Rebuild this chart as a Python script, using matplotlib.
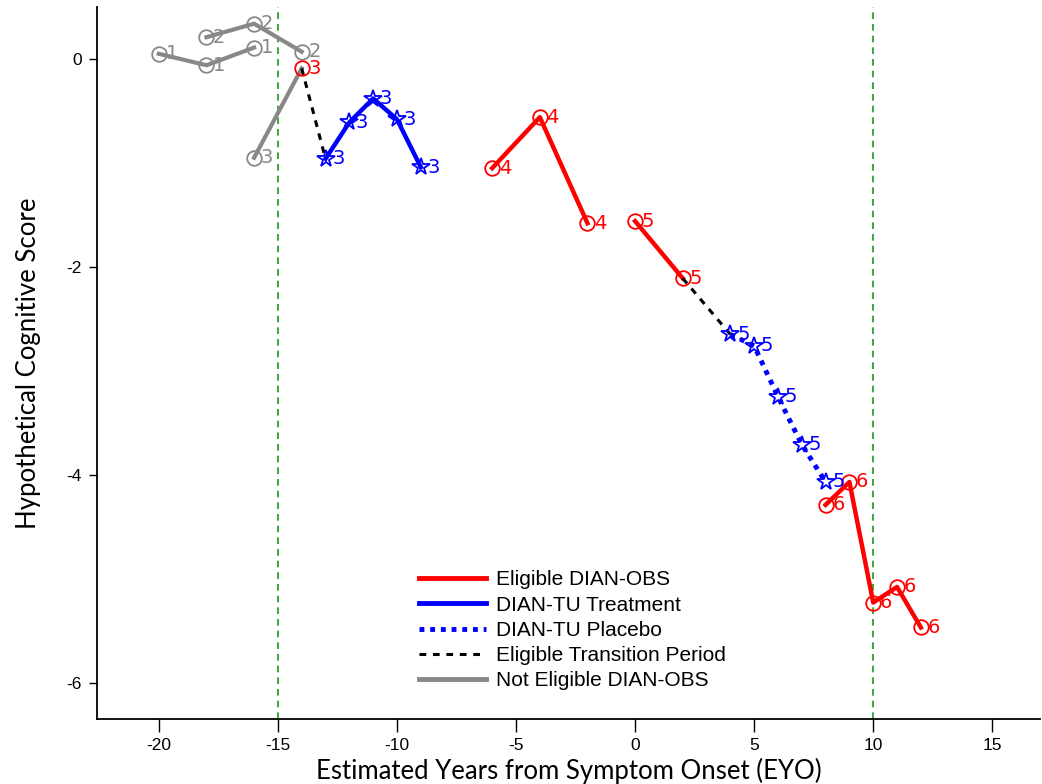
import matplotlib
matplotlib.use("Agg")
import matplotlib.pyplot as plt

plt.rcParams["axes.unicode_minus"] = False

# gray: not eligible DIAN-OBS
g1_x = [-20, -18, -16]
g1_y = [0.05, -0.06, 0.11]
g2_x = [-18, -16, -14]
g2_y = [0.21, 0.34, 0.07]
g3_x = [-16, -14]
g3_y = [-0.95, -0.09]

# blue: DIAN-TU treatment (subject 3)
tu3_x = [-13, -12, -11, -10, -9]
tu3_y = [-0.96, -0.61, -0.38, -0.58, -1.04]

# red: eligible DIAN-OBS
obs4_x = [-6, -4, -2]
obs4_y = [-1.05, -0.56, -1.58]
obs5_x = [0, 2]
obs5_y = [-1.56, -2.11]
obs6_x = [8, 9, 10, 11, 12]
obs6_y = [-4.29, -4.07, -5.23, -5.08, -5.47]

# blue dotted: DIAN-TU placebo (subject 5)
pl5_x = [4, 5, 6, 7, 8]
pl5_y = [-2.65, -2.76, -3.25, -3.71, -4.07]

# black dashed: transition periods
tr3_x = [-14, -13]
tr3_y = [-0.09, -0.96]
tr5_x = [2, 4]
tr5_y = [-2.11, -2.65]

RED, BLUE, GRAY = "#ff0000", "#0000ff", "#888888"
TICKFONT = ["Liberation Sans", "DejaVu Sans"]
LABFONT = ["Lato", "DejaVu Sans"]

fig = plt.figure(figsize=(10.42, 7.84), dpi=100)
ax = fig.add_axes([0.093, 0.083, 0.905, 0.908])

for xv in (-15, 10):
    ax.axvline(xv, color="#1a9a1a", ls=(0, (4, 3)), lw=1.2, zorder=1)


def markers(xs, ys, color, txt, marker="o", ms=10.5):
    ax.plot(xs, ys, ls="none", marker=marker, ms=ms, mfc="none", mec=color,
            mew=1.3, zorder=3)
    for x, y in zip(xs, ys):
        ax.text(x + 0.28, y, txt, color=color, fontsize=14, va="center",
                ha="left", zorder=4)


# lines
ax.plot(g1_x, g1_y, color=GRAY, lw=3, zorder=2)
ax.plot(g2_x, g2_y, color=GRAY, lw=3, zorder=2)
ax.plot(g3_x, g3_y, color=GRAY, lw=3, zorder=2)
ax.plot(tr3_x, tr3_y, color="black", lw=2.2, dashes=(2.2, 2.2), zorder=2)
ax.plot(tu3_x, tu3_y, color=BLUE, lw=3.2, zorder=2)
ax.plot(obs4_x, obs4_y, color=RED, lw=3.2, zorder=2)
ax.plot(obs5_x, obs5_y, color=RED, lw=3.2, zorder=2)
ax.plot(tr5_x, tr5_y, color="black", lw=2.2, dashes=(2.2, 2.2), zorder=2)
ax.plot(pl5_x, pl5_y, color=BLUE, lw=3.5, dashes=(1, 1.2), zorder=2)
ax.plot(obs6_x, obs6_y, color=RED, lw=3.2, zorder=2)

# markers + labels
markers(g1_x, g1_y, GRAY, "1")
markers(g2_x, g2_y, GRAY, "2")
markers(g3_x[:1], g3_y[:1], GRAY, "3")
markers(g3_x[1:], g3_y[1:], RED, "3")
markers(tu3_x, tu3_y, BLUE, "3", marker="*", ms=13)
markers(obs4_x, obs4_y, RED, "4")
markers(obs5_x, obs5_y, RED, "5")
markers(pl5_x, pl5_y, BLUE, "5", marker="*", ms=13)
markers(obs6_x, obs6_y, RED, "6")

# legend proxies
h = [
    plt.Line2D([], [], color=RED, lw=3.5, label="Eligible DIAN-OBS"),
    plt.Line2D([], [], color=BLUE, lw=3.5, label="DIAN-TU Treatment"),
    plt.Line2D([], [], color=BLUE, lw=3.5, dashes=(1, 1.2), label="DIAN-TU Placebo"),
    plt.Line2D([], [], color="black", lw=2.2, dashes=(2.2, 2.2),
               label="Eligible Transition Period"),
    plt.Line2D([], [], color=GRAY, lw=3.5, label="Not Eligible DIAN-OBS"),
]
ax.legend(handles=h, loc="lower left", bbox_to_anchor=(0.342, 0.04),
          frameon=False, handlelength=3.2, handletextpad=0.5,
          labelspacing=0.3, borderpad=0, borderaxespad=0,
          prop={"family": "Liberation Sans", "size": 15})

ax.set_xlim(-22.6, 17.0)
ax.set_ylim(-6.35, 0.5)
ax.set_xticks([-20, -15, -10, -5, 0, 5, 10, 15])
ax.set_yticks([-6, -4, -2, 0])
ax.spines["top"].set_visible(False)
ax.spines["right"].set_visible(False)
for s in ("left", "bottom"):
    ax.spines[s].set_linewidth(1.3)
ax.tick_params(axis="x", length=9, width=1, pad=5, labelsize=12.5)
ax.tick_params(axis="y", length=6, width=1, pad=5, labelsize=12.5)
for t in ax.get_xticklabels() + ax.get_yticklabels():
    t.set_family(TICKFONT)

ax.set_xlabel("Estimated Years from Symptom Onset (EYO)", fontsize=18.5,
              family=LABFONT, labelpad=3)
ax.set_ylabel("Hypothetical Cognitive Score", fontsize=18.5, family=LABFONT,
              labelpad=18)

fig.savefig("out.png", dpi=100)
